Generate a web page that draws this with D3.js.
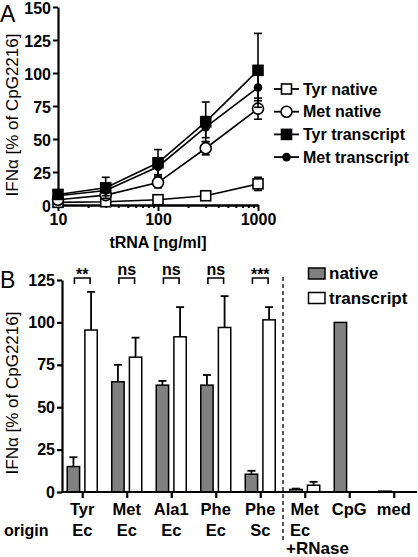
<!DOCTYPE html>
<html><head><meta charset="utf-8">
<script src="https://cdn.jsdelivr.net/npm/d3@7"></script>
<style>body{margin:0;background:#fff}svg{display:block}text{font-family:"Liberation Sans",Arial,sans-serif}</style>
</head><body>
<svg id="c" width="418" height="557"></svg>
<script>
// ---------- Panel A data ----------
const concA = [10, 30, 100, 300, 1000];
const tyrNative = [2, 2.5, 4, 7, 16];
const tyrNativeErr = [1, 1, 1, 1.5, 5];
const metNative = [4, 7.5, 17, 43, 73];
const metNativeErr = [1.5, 2, 4, 5, 8];
const tyrTranscript = [8, 13, 32, 63, 102];
const tyrTranscriptErr = [3, 8, 10, 15, 28];
const metTranscript = [7, 11, 29, 59, 89];
const metTranscriptErr = [2, 4, 6, 8, 10];
const yTicksA = [0, 25, 50, 75, 100, 125, 150];
const xTicksA = [10, 100, 1000];
const seriesA = ["Tyr native", "Met native", "Tyr transcript", "Met transcript"];

// ---------- Panel B data ----------
const catsB = ["Tyr", "Met", "Ala1", "PheEc", "PheSc", "MetR", "CpG", "med"];
const catLine1 = ["Tyr", "Met", "Ala1", "Phe", "Phe", "Met", "CpG", "med"];
const catLine2 = ["Ec", "Ec", "Ec", "Ec", "Sc", "Ec", "", ""];
const catLine3 = ["", "", "", "", "", "+RNase", "", ""];
const nativeB = [15, 65, 63, 63, 10.5, 1.5, 100, 0.5];
const nativeErrB = [5.5, 10, 2.5, 6, 2, 0.5, 0, 0];
const transcriptB = [95.5, 79.5, 91.5, 97, 101.5, 4, null, null];
const transcriptErrB = [22.5, 11.5, 17.5, 18.5, 7.5, 2, 0, 0];
const sigB = ["**", "ns", "ns", "ns", "***", null, null, null];
const yTicksB = [0, 25, 50, 75, 100, 125];
const groupsB = ["native", "transcript"];

const svg = d3.select("#c");
const F = '"Liberation Sans",Arial,sans-serif';

// ================= Panel A =================
const xA = d3.scaleLog().domain([10, 1000]).range([58, 258]);
const yA = d3.scaleLinear().domain([0, 150]).range([205, 7]);

const gA = svg.append("g");
const yAxA = gA.append("g").attr("transform", "translate(58,0)")
  .call(d3.axisLeft(yA).tickValues(yTicksA).tickSize(5).tickPadding(2).tickSizeOuter(0));
const minorA = [];
[10, 100].forEach(d => { for (let k = 2; k <= 9; k++) minorA.push(d * k); });
gA.append("g").attr("transform", "translate(0,205)")
  .call(d3.axisBottom(xA).tickValues(minorA).tickSize(3).tickFormat("").tickSizeOuter(0));
const xAxA = gA.append("g").attr("transform", "translate(0,205)")
  .call(d3.axisBottom(xA).tickValues(xTicksA).tickFormat(d3.format("d")).tickSize(6).tickPadding(3).tickSizeOuter(0));
[yAxA, xAxA].forEach(a => {
  a.selectAll("path,line").attr("stroke", "#000").attr("stroke-width", 2);
  a.selectAll("text").attr("font-size", 16).attr("font-weight", "bold").attr("font-family", F).attr("fill", "#000");
});
yAxA.selectAll("text").attr("dy", "0.38em");
gA.selectAll(".domain").attr("stroke-width", 2.2);
gA.selectAll("g.tick line").attr("stroke-width", 2);

const dataA = [
  {name: seriesA[0], v: tyrNative, e: tyrNativeErr, shape: "square", fill: "#fff"},
  {name: seriesA[1], v: metNative, e: metNativeErr, shape: "circle", fill: "#fff"},
  {name: seriesA[2], v: tyrTranscript, e: tyrTranscriptErr, shape: "square", fill: "#000"},
  {name: seriesA[3], v: metTranscript, e: metTranscriptErr, shape: "dot", fill: "#000"}
];
const line = d3.line().x(d => xA(d[0])).y(d => yA(d[1]));
function marker(g, s, cx, cy) {
  if (s.shape === "square") {
    g.append("rect").attr("x", cx - 5).attr("y", cy - 5).attr("width", 10).attr("height", 10)
      .attr("fill", s.fill).attr("stroke", "#000").attr("stroke-width", 1.6);
  } else if (s.shape === "circle") {
    g.append("circle").attr("cx", cx).attr("cy", cy).attr("r", 5.5)
      .attr("fill", s.fill).attr("stroke", "#000").attr("stroke-width", 1.6);
  } else {
    g.append("circle").attr("cx", cx).attr("cy", cy).attr("r", 4.3).attr("fill", "#000");
  }
}
dataA.forEach(s => {
  const pts = concA.map((c, i) => [c, s.v[i], s.e[i]]);
  const g = gA.append("g");
  pts.forEach(p => {
    const x = xA(p[0]), y1 = yA(p[1] + p[2]), y2 = yA(Math.max(0, p[1] - p[2]));
    g.append("line").attr("x1", x).attr("x2", x).attr("y1", y1).attr("y2", y2).attr("stroke", "#000").attr("stroke-width", 1.6);
    [y1, y2].forEach(y => g.append("line").attr("x1", x - 4).attr("x2", x + 4).attr("y1", y).attr("y2", y).attr("stroke", "#000").attr("stroke-width", 1.6));
  });
  g.append("path").datum(pts).attr("d", line).attr("fill", "none").attr("stroke", "#000").attr("stroke-width", 1.6);
  pts.forEach(p => marker(g, s, xA(p[0]), yA(p[1])));
});
dataA.forEach((s, i) => {
  const cy = 89 + i * 22.7;
  const g = gA.append("g");
  g.append("line").attr("x1", 274).attr("x2", 299).attr("y1", cy).attr("y2", cy).attr("stroke", "#000").attr("stroke-width", 1.8);
  marker(g, s, 286.5, cy);
  g.append("text").attr("x", 303).attr("y", cy + 5.5).attr("font-size", 16).attr("font-weight", "bold").text(s.name);
});
svg.append("text").attr("x", 0).attr("y", 22).attr("font-size", 23).text("A");
svg.append("text").attr("transform", "translate(18,115) rotate(-90)").attr("text-anchor", "middle")
  .attr("font-size", 17).text("IFNα [% of CpG2216]");
svg.append("text").attr("x", 158).attr("y", 248).attr("text-anchor", "middle").attr("font-size", 16)
  .attr("font-weight", "bold").text("tRNA [ng/ml]");

// ================= Panel B =================
const xB = d3.scalePoint().domain(catsB).range([60, 416]).padding(0.5);
const sub = d3.scaleBand().domain(groupsB).range([-15, 15]).paddingInner(0.3);
const yB = d3.scaleLinear().domain([0, 125]).range([492, 280]);
const gB = svg.append("g");

const fills = {native: "#808080", transcript: "#fff"};
catsB.forEach((c, i) => {
  [["native", nativeB[i], nativeErrB[i]], ["transcript", transcriptB[i], transcriptErrB[i]]].forEach(([grp, v, e]) => {
    if (v === null) return;
    const x0 = xB(c) + sub(grp), w = sub.bandwidth();
    const cx = x0 + w / 2;
    if (e > 0) {
      gB.append("line").attr("x1", cx).attr("x2", cx).attr("y1", yB(v)).attr("y2", yB(v + e)).attr("stroke", "#000").attr("stroke-width", 1.8);
      gB.append("line").attr("x1", cx - 4).attr("x2", cx + 4).attr("y1", yB(v + e)).attr("y2", yB(v + e)).attr("stroke", "#000").attr("stroke-width", 1.8);
    }
    gB.append("rect").attr("x", x0).attr("y", yB(v)).attr("width", w).attr("height", yB(0) - yB(v))
      .attr("fill", fills[grp]).attr("stroke", "#000").attr("stroke-width", 1.5);
  });
  if (sigB[i]) {
    const xa = xB(c) + sub("native") + sub.bandwidth() / 2 + 1;
    const xb = xB(c) + sub("transcript") + sub.bandwidth() / 2 - 1;
    gB.append("path").attr("d", `M${xa},284V278H${xb}V284`).attr("fill", "none").attr("stroke", "#000").attr("stroke-width", 1.6);
    const isStar = sigB[i].startsWith("*");
    gB.append("text").attr("x", (xa + xb) / 2).attr("y", isStar ? 280 : 275).attr("text-anchor", "middle")
      .attr("font-size", 16).attr("font-weight", "bold").text(sigB[i]);
  }
});

const yAxB = gB.append("g").attr("transform", "translate(62,0)")
  .call(d3.axisLeft(yB).tickValues(yTicksB).tickSize(5).tickPadding(2).tickSizeOuter(0));
const xAxB = gB.append("g").attr("transform", "translate(0,492)")
  .call(d3.axisBottom(xB).tickSize(6).tickFormat("").tickSizeOuter(0));
xAxB.select(".domain").attr("d", "M62,0H417");
[yAxB, xAxB].forEach(a => {
  a.selectAll("path,line").attr("stroke", "#000").attr("stroke-width", 2.2);
  a.selectAll("text").attr("font-size", 16).attr("font-weight", "bold").attr("font-family", F).attr("fill", "#000");
});
catsB.forEach((c, i) => {
  gB.append("text").attr("x", xB(c)).attr("y", 515).attr("text-anchor", "middle").attr("font-size", 16.5).attr("font-weight", "bold").text(catLine1[i]);
  if (catLine2[i]) gB.append("text").attr("x", i === 5 ? 290 : xB(c)).attr("y", 536).attr("text-anchor", i === 5 ? "start" : "middle").attr("font-size", 16.5).attr("font-weight", "bold").text(catLine2[i]);
  if (catLine3[i]) gB.append("text").attr("x", 286).attr("y", 554).attr("font-size", 17).attr("font-weight", "bold").text(catLine3[i]);
});
svg.append("text").attr("x", 4).attr("y", 536).attr("font-size", 16).attr("font-weight", "bold").text("origin");
gB.append("line").attr("x1", 283).attr("x2", 283).attr("y1", 277).attr("y2", 540)
  .attr("stroke", "#000").attr("stroke-width", 1.3).attr("stroke-dasharray", "4,3");
groupsB.forEach((g, i) => {
  const cy = 273.5 + i * 24.5;
  gB.append("rect").attr("x", 308.5).attr("y", cy - 5.5).attr("width", 16.5).attr("height", 11)
    .attr("fill", fills[g]).attr("stroke", "#000").attr("stroke-width", 1.5);
  gB.append("text").attr("x", 329).attr("y", cy + 5.5).attr("font-size", 17).attr("font-weight", "bold").text(g);
});
svg.append("text").attr("x", 0).attr("y", 288).attr("font-size", 23).text("B");
svg.append("text").attr("transform", "translate(18,393) rotate(-90)").attr("text-anchor", "middle")
  .attr("font-size", 17).text("IFNα [% of CpG2216]");
</script>
</body></html>
